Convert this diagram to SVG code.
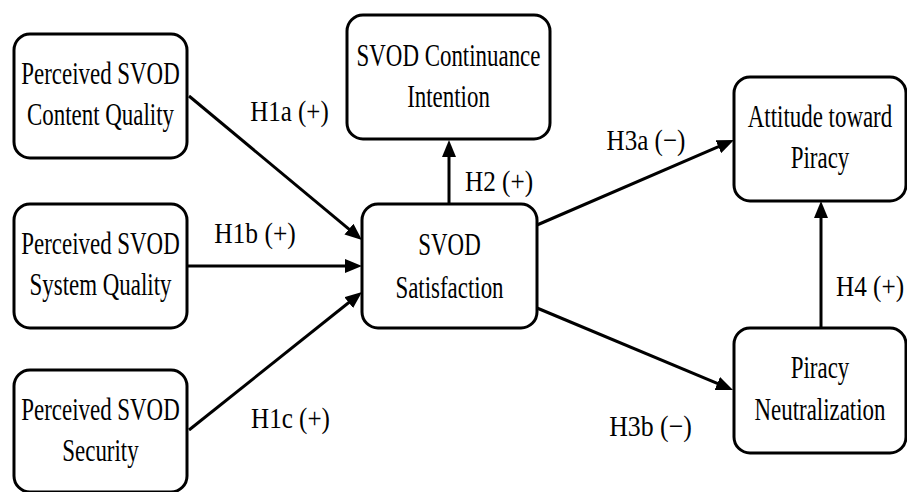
<svg xmlns="http://www.w3.org/2000/svg" width="907" height="492" viewBox="0 0 907 492">
  <style>
    .box { fill: #ffffff; stroke: #000000; stroke-width: 3; }
    .lbl { font-family: "Liberation Serif", "Times New Roman", serif; font-size: 31px; fill: #000000; text-anchor: middle; }
    .hyp { font-family: "Liberation Serif", "Times New Roman", serif; font-size: 29.5px; fill: #000000; text-anchor: middle; }
    .edge { fill: none; stroke: #000000; stroke-width: 3; }
  </style>
  <defs>
    <marker id="arrow" markerUnits="userSpaceOnUse" markerWidth="17" markerHeight="14" refX="9" refY="7" orient="auto">
      <path d="M0,0 L17,7 L0,14 z" fill="#000000"/>
    </marker>
  </defs>
  <rect width="907" height="492" fill="#ffffff"/>

  <!-- connectors -->
  <g id="connectors">
    <path class="edge" d="M189,96 L355.85,234.88" marker-end="url(#arrow)"/>
    <path class="edge" d="M187,266 L354,266" marker-end="url(#arrow)"/>
    <path class="edge" d="M189,430 L355.75,296.99" marker-end="url(#arrow)"/>
    <path class="edge" d="M449,204 L449,148" marker-end="url(#arrow)"/>
    <path class="edge" d="M537,225 L726.65,143.17" marker-end="url(#arrow)"/>
    <path class="edge" d="M537,308 L725.62,386.91" marker-end="url(#arrow)"/>
    <path class="edge" d="M821,328 L821,209" marker-end="url(#arrow)"/>
  </g>

  <!-- hypothesis labels (condensed serif) -->
  <g id="labels">
    <text class="hyp" transform="translate(289.5 121) scale(0.845 1)">H1a (+)</text>
    <text class="hyp" transform="translate(255 243) scale(0.865 1)">H1b (+)</text>
    <text class="hyp" transform="translate(290.5 428) scale(0.85 1)">H1c (+)</text>
    <text class="hyp" transform="translate(499 191) scale(0.855 1)">H2 (+)</text>
    <text class="hyp" transform="translate(646 150) scale(0.85 1)">H3a (−)</text>
    <text class="hyp" transform="translate(650.5 436) scale(0.875 1)">H3b (−)</text>
    <text class="hyp" transform="translate(870 296) scale(0.855 1)">H4 (+)</text>
  </g>

  <!-- nodes -->
  <g id="content-quality">
    <rect class="box" x="14" y="34" width="173" height="124" rx="16"/>
    <text class="lbl" transform="translate(100.5 84) scale(0.739 1)">Perceived SVOD</text>
    <text class="lbl" transform="translate(100.5 125) scale(0.739 1)">Content Quality</text>
  </g>
  <g id="system-quality">
    <rect class="box" x="14" y="204" width="173" height="124" rx="16"/>
    <text class="lbl" transform="translate(100.5 254) scale(0.739 1)">Perceived SVOD</text>
    <text class="lbl" transform="translate(100.5 295) scale(0.739 1)">System Quality</text>
  </g>
  <g id="security">
    <rect class="box" x="14" y="370" width="173" height="122" rx="16"/>
    <text class="lbl" transform="translate(100.5 420) scale(0.739 1)">Perceived SVOD</text>
    <text class="lbl" transform="translate(100.5 461) scale(0.739 1)">Security</text>
  </g>
  <g id="satisfaction">
    <rect class="box" x="362" y="204" width="175" height="124" rx="16"/>
    <text class="lbl" transform="translate(449.5 255) scale(0.739 1)">SVOD</text>
    <text class="lbl" transform="translate(449.5 298) scale(0.739 1)">Satisfaction</text>
  </g>
  <g id="continuance">
    <rect class="box" x="347" y="15" width="203" height="124" rx="16"/>
    <text class="lbl" transform="translate(448.5 66) scale(0.739 1)">SVOD Continuance</text>
    <text class="lbl" transform="translate(448.5 107) scale(0.739 1)">Intention</text>
  </g>
  <g id="attitude">
    <rect class="box" x="734" y="77" width="172" height="124" rx="16"/>
    <text class="lbl" transform="translate(820 127) scale(0.739 1)">Attitude toward</text>
    <text class="lbl" transform="translate(820 168) scale(0.739 1)">Piracy</text>
  </g>
  <g id="neutralization">
    <rect class="box" x="734" y="328" width="172" height="125" rx="16"/>
    <text class="lbl" transform="translate(820 378) scale(0.739 1)">Piracy</text>
    <text class="lbl" transform="translate(820 420) scale(0.739 1)">Neutralization</text>
  </g>
</svg>
